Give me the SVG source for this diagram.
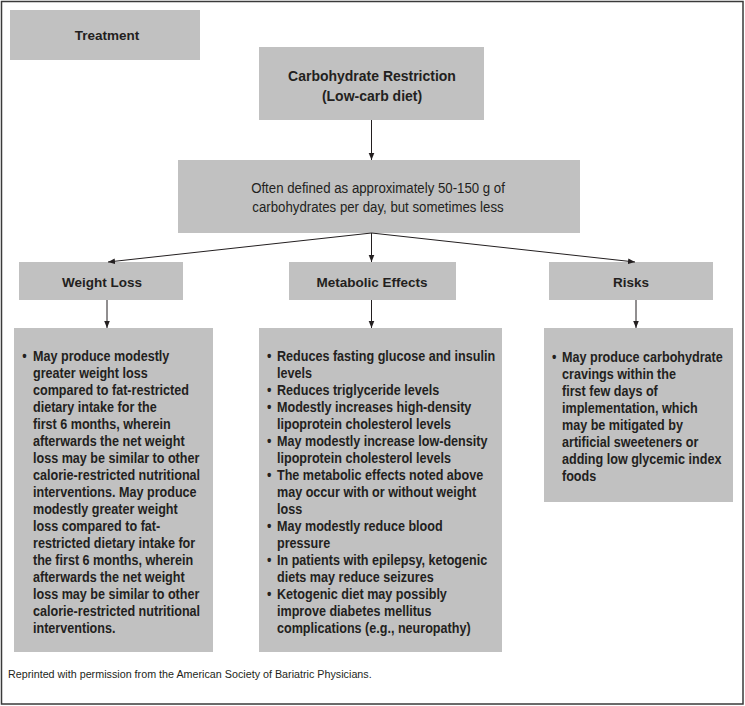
<svg xmlns="http://www.w3.org/2000/svg" width="745" height="706" viewBox="0 0 745 706">
<defs>
<style>
.box{fill:#c1c1c1}
.hd{font-family:"Liberation Sans","Arial",sans-serif;font-weight:bold;font-size:13.5px;fill:#231f20;text-anchor:middle}
.hn{font-family:"Liberation Sans","Arial",sans-serif;font-weight:bold;font-size:14.5px;fill:#231f20;text-anchor:middle}
.df{font-family:"Liberation Sans","Arial",sans-serif;font-size:14.5px;fill:#231f20;text-anchor:middle}
.bt{font-family:"Liberation Sans","Arial",sans-serif;font-weight:bold;font-size:14px;fill:#231f20}
.ft{font-family:"Liberation Sans","Arial",sans-serif;font-size:11.5px;fill:#231f20}
.ln{stroke:#231f20;stroke-width:1;fill:none}
</style>
<marker id="ah" viewBox="0 0 10 10" refX="10" refY="5" markerWidth="7" markerHeight="7" markerUnits="userSpaceOnUse" orient="auto">
<path d="M0,1 L10,5 L0,9 Z" fill="#231f20"/>
</marker>
</defs>
<rect x="0" y="0" width="745" height="706" fill="#ffffff"/>
<rect x="1.5" y="1.5" width="741.5" height="702.5" fill="none" stroke="#3a3a3a" stroke-width="1.5"/>

<g id="treatment">
<rect class="box" x="10" y="10" width="190" height="50"/>
<text class="hd" x="107" y="40">Treatment</text>
</g>

<g id="carb-restriction">
<rect class="box" x="259" y="47" width="225" height="73"/>
<g transform="translate(372,0) scale(0.965,1)">
<text class="hn" x="0" y="81">Carbohydrate Restriction</text>
<text class="hn" x="0" y="101">(Low-carb diet)</text>
</g>
</g>

<g id="definition">
<rect class="box" x="178" y="160" width="402" height="73"/>
<g transform="translate(378,0) scale(0.913,1)">
<text class="df" x="0" y="193">Often defined as approximately 50-150 g of</text>
<text class="df" x="0" y="212">carbohydrates per day, but sometimes less</text>
</g>
</g>

<g id="weight-loss">
<rect class="box" x="19" y="262" width="164" height="38"/>
<text class="hd" x="102" y="287">Weight Loss</text>
</g>

<g id="metabolic-effects">
<rect class="box" x="289" y="262" width="167" height="38"/>
<text class="hd" x="372" y="287">Metabolic Effects</text>
</g>

<g id="risks">
<rect class="box" x="549" y="262" width="164" height="38"/>
<text class="hd" x="631" y="287">Risks</text>
</g>

<g id="weight-loss-details">
<rect class="box" x="14" y="328" width="199" height="324"/>
<g transform="translate(33,0) scale(0.9,1)">
<text class="bt" x="-12" y="361">•</text>
<text class="bt" x="0" y="361">May produce modestly</text>
<text class="bt" x="0" y="378">greater weight loss</text>
<text class="bt" x="0" y="395">compared to fat-restricted</text>
<text class="bt" x="0" y="412">dietary intake for the</text>
<text class="bt" x="0" y="429">first 6 months, wherein</text>
<text class="bt" x="0" y="446">afterwards the net weight</text>
<text class="bt" x="0" y="463">loss may be similar to other</text>
<text class="bt" x="0" y="480">calorie-restricted nutritional</text>
<text class="bt" x="0" y="497">interventions. May produce</text>
<text class="bt" x="0" y="514">modestly greater weight</text>
<text class="bt" x="0" y="531">loss compared to fat-</text>
<text class="bt" x="0" y="548">restricted dietary intake for</text>
<text class="bt" x="0" y="565">the first 6 months, wherein</text>
<text class="bt" x="0" y="582">afterwards the net weight</text>
<text class="bt" x="0" y="599">loss may be similar to other</text>
<text class="bt" x="0" y="616">calorie-restricted nutritional</text>
<text class="bt" x="0" y="633">interventions.</text>
</g>
</g>

<g id="metabolic-details">
<rect class="box" x="259" y="328" width="243" height="324"/>
<g transform="translate(277,0) scale(0.9,1)">
<text class="bt" x="-11" y="361">•</text>
<text class="bt" x="0" y="361">Reduces fasting glucose and insulin</text>
<text class="bt" x="0" y="378">levels</text>
<text class="bt" x="-11" y="395">•</text>
<text class="bt" x="0" y="395">Reduces triglyceride levels</text>
<text class="bt" x="-11" y="412">•</text>
<text class="bt" x="0" y="412">Modestly increases high-density</text>
<text class="bt" x="0" y="429">lipoprotein cholesterol levels</text>
<text class="bt" x="-11" y="446">•</text>
<text class="bt" x="0" y="446">May modestly increase low-density</text>
<text class="bt" x="0" y="463">lipoprotein cholesterol levels</text>
<text class="bt" x="-11" y="480">•</text>
<text class="bt" x="0" y="480">The metabolic effects noted above</text>
<text class="bt" x="0" y="497">may occur with or without weight</text>
<text class="bt" x="0" y="514">loss</text>
<text class="bt" x="-11" y="531">•</text>
<text class="bt" x="0" y="531">May modestly reduce blood</text>
<text class="bt" x="0" y="548">pressure</text>
<text class="bt" x="-11" y="565">•</text>
<text class="bt" x="0" y="565">In patients with epilepsy, ketogenic</text>
<text class="bt" x="0" y="582">diets may reduce seizures</text>
<text class="bt" x="-11" y="599">•</text>
<text class="bt" x="0" y="599">Ketogenic diet may possibly</text>
<text class="bt" x="0" y="616">improve diabetes mellitus</text>
<text class="bt" x="0" y="633">complications (e.g., neuropathy)</text>
</g>
</g>

<g id="risks-details">
<rect class="box" x="544" y="328" width="189" height="174"/>
<g transform="translate(562,0) scale(0.9,1)">
<text class="bt" x="-11" y="362">•</text>
<text class="bt" x="0" y="362">May produce carbohydrate</text>
<text class="bt" x="0" y="379">cravings within the</text>
<text class="bt" x="0" y="396">first few days of</text>
<text class="bt" x="0" y="413">implementation, which</text>
<text class="bt" x="0" y="430">may be mitigated by</text>
<text class="bt" x="0" y="447">artificial sweeteners or</text>
<text class="bt" x="0" y="464">adding low glycemic index</text>
<text class="bt" x="0" y="481">foods</text>
</g>
</g>

<g id="connectors">
<line class="ln" x1="371.5" y1="120" x2="371.5" y2="160" marker-end="url(#ah)"/>
<line class="ln" x1="371.5" y1="233" x2="108" y2="262" marker-end="url(#ah)"/>
<line class="ln" x1="371.5" y1="233" x2="371.5" y2="262" marker-end="url(#ah)"/>
<line class="ln" x1="371.5" y1="233" x2="635" y2="262" marker-end="url(#ah)"/>
<line class="ln" x1="107" y1="300" x2="107" y2="328" marker-end="url(#ah)"/>
<line class="ln" x1="371.5" y1="300" x2="371.5" y2="328" marker-end="url(#ah)"/>
<line class="ln" x1="636" y1="300" x2="636" y2="328" marker-end="url(#ah)"/>
</g>

<g transform="translate(8,0) scale(0.935,1)">
<text class="ft" x="0" y="678">Reprinted with permission from the American Society of Bariatric Physicians.</text>
</g>
</svg>
